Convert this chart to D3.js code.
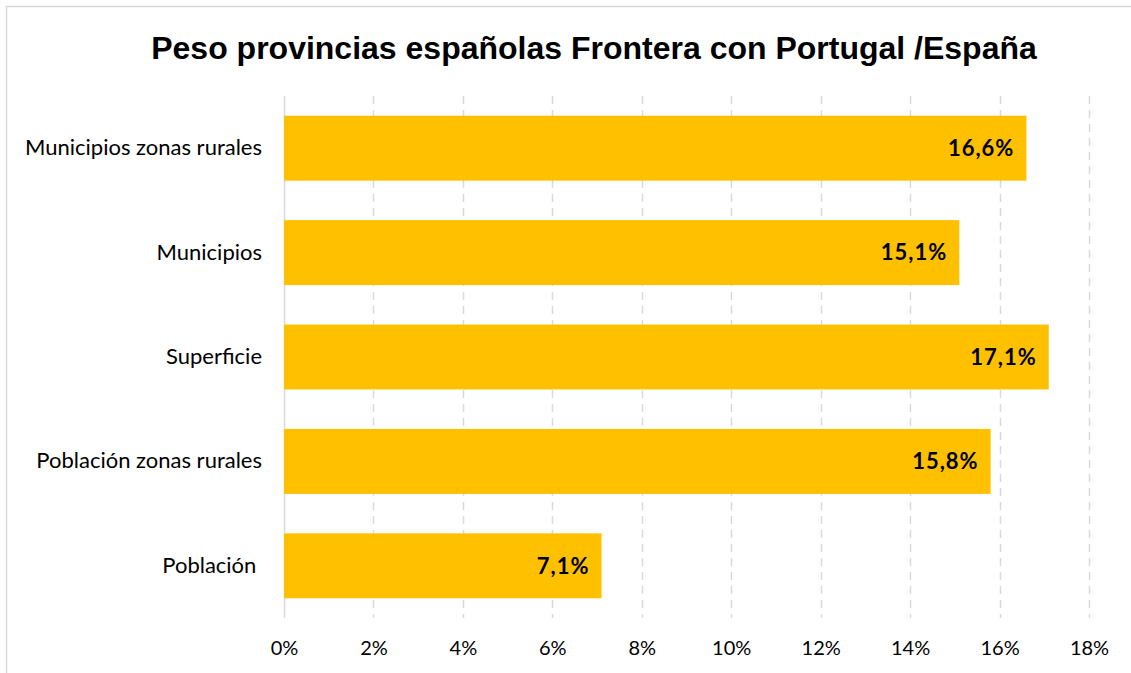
<!DOCTYPE html>
<html>
<head>
<meta charset="utf-8">
<script src="https://cdn.jsdelivr.net/npm/d3@7"></script>
<style>
  body { margin: 0; background: #fff; }
  svg text { white-space: pre; }
</style>
</head>
<body>
<svg id="chart" width="1131" height="673"></svg>
<script>
// data
var categories = ["Municipios zonas rurales", "Municipios", "Superficie", "Población zonas rurales", "Población "];
var values = [16.6, 15.1, 17.1, 15.8, 7.1];
var valueLabels = ["16,6%", "15,1%", "17,1%", "15,8%", "7,1%"];
var tickValues = [0, 2, 4, 6, 8, 10, 12, 14, 16, 18];

var svg = d3.select("#chart"),
    margin = { top: 96, right: 42, bottom: 55, left: 284 },
    width = 1131 - margin.left - margin.right,
    height = 673 - margin.top - margin.bottom;

// outer frame
svg.append("rect")
    .attr("x", 6.5).attr("y", 6.5)
    .attr("width", 1140).attr("height", 700)
    .attr("fill", "none")
    .attr("stroke", "#d9d9d9")
    .attr("stroke-width", 1.5);

svg.append("text")
    .attr("x", 594).attr("y", 59)
    .attr("text-anchor", "middle")
    .attr("font-family", "Liberation Sans, Arial, sans-serif")
    .attr("font-weight", "bold")
    .attr("font-size", 32)
    .text("Peso provincias españolas Frontera con Portugal /España");

var x = d3.scaleLinear().domain([0, 18]).range([0, 805]);
var y = d3.scaleBand().domain(categories).range([0, 522]).paddingInner(0.378).paddingOuter(0.189);

var g = svg.append("g")
    .attr("transform", "translate(" + margin.left + "," + margin.top + ")");

// grid
g.selectAll(".grid")
    .data(tickValues)
    .enter().append("line")
    .attr("x1", function (d) { return Math.round(x(d)) + 0.5; })
    .attr("x2", function (d) { return Math.round(x(d)) + 0.5; })
    .attr("y1", 0).attr("y2", 522)
    .attr("stroke", "#d9d9d9")
    .attr("stroke-width", 1.5)
    .attr("stroke-dasharray", function (d) { return d == 0 ? null : "8,6"; });

g.selectAll(".bar")
    .data(values)
    .enter().append("rect")
    .attr("x", 0)
    .attr("y", function (d, i) { return y(categories[i]); })
    .attr("width", function (d) { return x(d); })
    .attr("height", y.bandwidth())
    .attr("fill", "#ffc000");

g.selectAll(".val")
    .data(values)
    .enter().append("text")
    .attr("x", function (d) { return x(d) - 12; })
    .attr("y", function (d, i) { return y(categories[i]) + y.bandwidth() / 2; })
    .attr("dy", "0.35em")
    .attr("text-anchor", "end")
    .attr("font-family", "Lato, sans-serif")
    .attr("font-weight", "bold")
    .attr("font-size", 22)
    .attr("letter-spacing", 1)
    .text(function (d, i) { return valueLabels[i]; });

// axes
var yAxis = g.append("g")
    .call(d3.axisLeft(y).tickSize(0).tickPadding(22));
yAxis.select(".domain").remove();
yAxis.selectAll("text")
    .attr("font-family", "Lato, sans-serif")
    .attr("font-size", 22)
    .attr("fill", "#000");

var xAxis = g.append("g")
    .attr("transform", "translate(0,522)")
    .call(d3.axisBottom(x).tickValues(tickValues).tickSize(0).tickPadding(23)
        .tickFormat(function (d) { return d + "%"; }));
xAxis.select(".domain").remove();
xAxis.selectAll("text")
    .attr("font-family", "Lato, sans-serif")
    .attr("font-size", 20)
    .attr("fill", "#000");
</script>
</body>
</html>
